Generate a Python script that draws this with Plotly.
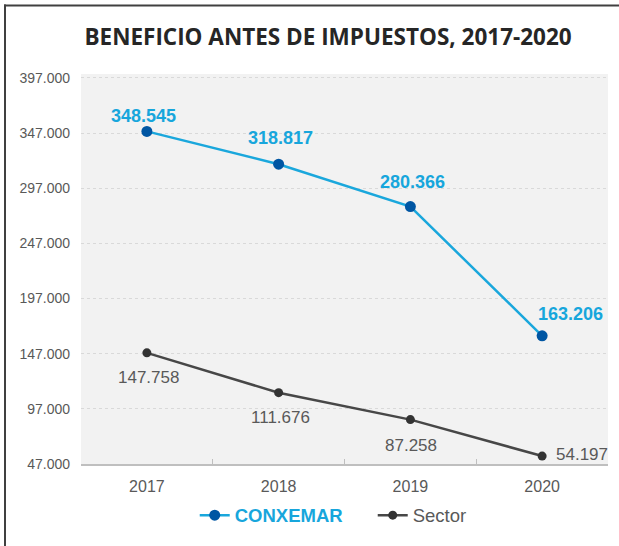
import plotly.graph_objects as go

years = ["2017", "2018", "2019", "2020"]
conxemar = [348545, 318817, 280366, 163206]
sector = [147758, 111676, 87258, 54197]
conxemar_labels = ["348.545", "318.817", "280.366", "163.206"]
sector_labels = ["147.758", "111.676", "87.258", "54.197"]

W, H = 619, 546
L, R, T, B = 81, 11, 74, 79
pw, ph = W - L - R, H - T - B

def px(x):
    return (x - L) / pw

def py(y):
    return (H - B - y) / ph

blue_line = "#1aa7dc"
blue_marker = "#0056a3"
blue_text = "#17a6dc"
gray_line = "#474747"
gray_text = "#595959"

# label offsets in pixels (layout only)
c_shift = [(-3, 15), (2, 26), (2, 25), (28, 22)]
s_shift = [(2, -25), (2, -25), (1, -26), (40, 2)]

fig = go.Figure()
fig.add_trace(go.Scatter(
    x=years, y=conxemar, mode="lines+markers",
    name="<b><span style='color:#17a6dc'>CONXEMAR</span></b>",
    line=dict(color=blue_line, width=2.5),
    marker=dict(color=blue_marker, size=11),
    cliponaxis=False,
))
fig.add_trace(go.Scatter(
    x=years, y=sector, mode="lines+markers",
    name="<span style='color:#595959'>Sector</span>",
    line=dict(color=gray_line, width=2.5),
    marker=dict(color="#333333", size=9),
    cliponaxis=False,
))

annotations = []
for i, (v, t, (dx, dy)) in enumerate(zip(conxemar, conxemar_labels, c_shift)):
    annotations.append(dict(
        x=i, y=v, xref="x", yref="y", text="<b>" + t + "</b>", showarrow=False,
        xanchor="center", yanchor="middle", xshift=dx, yshift=dy,
        font=dict(family="Liberation Sans", size=18, color=blue_text),
    ))
for i, (v, t, (dx, dy)) in enumerate(zip(sector, sector_labels, s_shift)):
    annotations.append(dict(
        x=i, y=v, xref="x", yref="y", text=t, showarrow=False,
        xanchor="center", yanchor="middle", xshift=dx, yshift=dy,
        font=dict(family="Liberation Sans", size=17, color=gray_text),
    ))

fig.update_layout(
    width=W, height=H,
    margin=dict(l=L, r=R, t=T, b=B),
    paper_bgcolor="white",
    plot_bgcolor="#f2f2f2",
    separators=",.",
    font=dict(family="Liberation Sans", color=gray_text),
    title=dict(
        text="<b>BENEFICIO ANTES DE IMPUESTOS, 2017-2020</b>",
        font=dict(family="Open Sans", size=22.5, color="#262626"),
        xref="container", x=0.53, xanchor="center",
        yref="container", y=1 - 37 / H, yanchor="middle",
    ),
    showlegend=True,
    legend=dict(
        orientation="h", x=px(200) - 0.01, xanchor="left", y=py(519), yanchor="middle",
        font=dict(family="Liberation Sans", size=18.5, color=gray_text),
        bgcolor="rgba(0,0,0,0)", entrywidth=133, entrywidthmode="pixels",
    ),
    annotations=annotations,
    shapes=[
        dict(type="line", xref="paper", yref="paper",
             x0=px(5), x1=px(5), y0=py(4), y1=py(560),
             line=dict(color="#404040", width=2)),
        dict(type="line", xref="paper", yref="paper",
             x0=px(4), x1=px(640), y0=py(5), y1=py(5),
             line=dict(color="#404040", width=2)),
    ],
)
fig.update_xaxes(
    type="category", range=[-0.5, 3.5], tickson="boundaries", ticks="inside", ticklen=5,
    tickcolor="#bfbfbf", showline=True, linecolor="#bfbfbf", linewidth=1.5,
    showgrid=False, tickfont=dict(size=16, color=gray_text),
    ticklabelstandoff=7,
)
fig.update_yaxes(
    range=[47000, 400600], tick0=47000, dtick=50000, tickformat=",d",
    showgrid=True, gridcolor="#d9d9d9", griddash="dot", gridwidth=1,
    zeroline=False, showline=False, ticks="",
    tickfont=dict(size=14, color=gray_text), ticklabelstandoff=10,
)

fig.write_html("out.html", config={"displayModeBar": False},
               post_script="document.body.style.margin='0';")
